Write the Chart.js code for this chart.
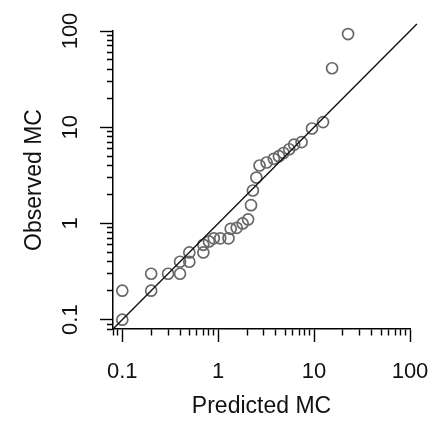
<!DOCTYPE html>
<html>
<head>
<meta charset="utf-8">
<script src="https://cdn.jsdelivr.net/npm/chart.js@4.4.1/dist/chart.umd.min.js"></script>
<style>
  body { margin: 0; background: #fff; }
  #wrap { width: 436px; height: 427px; }
</style>
</head>
<body>
<div id="wrap"><canvas id="qq" width="436" height="427"></canvas></div>
<script>
// predicted vs observed MC, both axes log
const predicted = [0.1, 0.1, 0.2, 0.2, 0.3, 0.4, 0.4, 0.5, 0.5, 0.7, 0.7, 0.8, 0.9, 1.05, 1.28, 1.35, 1.56, 1.8, 2.05, 2.2, 2.3, 2.5, 2.7, 3.2, 3.8, 4.3, 4.8, 5.5, 6.2, 7.4, 9.5, 12.4, 15.4, 22.6];
const observed  = [0.1, 0.2, 0.2, 0.3, 0.3, 0.3, 0.4, 0.4, 0.5, 0.5, 0.6, 0.65, 0.7, 0.7, 0.7, 0.88, 0.9, 1.0, 1.1, 1.55, 2.2, 3.0, 4.0, 4.3, 4.7, 5.0, 5.4, 5.9, 6.6, 7.0, 9.7, 11.3, 41, 93];

// 1:1 reference line (runs a little past 100 like abline)
const lineX = [0.08, 118];
const lineY = [0.08, 118];

// axis ticks, R style: long ticks with labels, short ones without
const tickValues = [0.08, 0.09, 0.1, 0.2, 0.3, 0.4, 0.5, 0.6, 0.7, 0.8, 0.9,
                    1, 2, 3, 4, 5, 6, 7, 8, 9,
                    10, 20, 30, 40, 50, 60, 70, 80, 90, 100];
const majorTicks = [0.1, 1, 10, 100];
const majorLabels = ['0.1', '1', '10', '100'];

const FONT = "'Liberation Sans', Arial, Helvetica, sans-serif";
const TICK_LEN = 13;

function tickLabel(value) {
  const i = majorTicks.indexOf(value);
  return i < 0 ? '' : majorLabels[i];
}
function isMajor(ctx) {
  return ctx.tick && majorTicks.indexOf(ctx.tick.value) >= 0;
}
function useTicks(scale) {
  scale.ticks = tickValues.map(function(v) { return {value: v}; });
}

const canvas = document.getElementById('qq');

new Chart(canvas, {
  type: 'scatter',
  data: {
    datasets: [
      {
        type: 'line',
        data: lineX.map(function(x, i) { return {x: x, y: lineY[i]}; }),
        borderColor: '#111',
        borderWidth: 1.4,
        pointRadius: 0,
        clip: false,
      },
      {
        data: predicted.map(function(x, i) { return {x: x, y: observed[i]}; }),
        pointRadius: 5.5,
        pointBorderWidth: 1.7,
        pointBorderColor: '#686868',
        pointBackgroundColor: 'rgba(0,0,0,0)',
        clip: false,
      }
    ]
  },
  options: {
    responsive: false,
    animation: false,
    layout: { padding: { top: 31, right: 26, bottom: 0, left: 0 } },
    plugins: { legend: { display: false }, tooltip: { enabled: false } },
    scales: {
      x: {
        type: 'logarithmic',
        position: 'bottom',
        min: 0.08,
        max: 100,
        afterBuildTicks: useTicks,
        afterFit: function(s) { s.height = 98; s.paddingLeft = 0; s.paddingRight = 0; },
        border: { display: true, color: '#000', width: 1.5 },
        grid: {
          drawOnChartArea: false,
          drawTicks: true,
          tickLength: TICK_LEN,
          tickColor: '#000',
          tickWidth: 1.4,
          // short minor ticks: dash starts at the axis line
          tickBorderDash: function(ctx) { return isMajor(ctx) ? [] : [6, 40]; },
        },
        ticks: {
          autoSkip: false, minRotation: 0, maxRotation: 0, padding: 17,
          color: '#111', font: { family: FONT, size: 22 },
          callback: tickLabel,
        },
        title: {
          display: true, text: 'Predicted MC', color: '#111',
          font: { family: FONT, size: 23 }, padding: { top: 0, bottom: 7 },
        },
      },
      y: {
        type: 'logarithmic',
        position: 'left',
        min: 0.08,
        max: 100,
        afterBuildTicks: useTicks,
        afterFit: function(s) { s.width = 113; s.paddingTop = 0; s.paddingBottom = 0; },
        border: { display: true, color: '#000', width: 1.5 },
        grid: {
          drawOnChartArea: false,
          drawTicks: true,
          tickLength: TICK_LEN,
          tickColor: '#000',
          tickWidth: 1.4,
          // left ticks are drawn from the outer end inwards
          tickBorderDash: function(ctx) { return isMajor(ctx) ? [] : [0, 7, 6, 40]; },
        },
        ticks: {
          autoSkip: false, minRotation: 90, maxRotation: 90, crossAlign: 'center', padding: 11,
          color: '#111', font: { family: FONT, size: 22 },
          callback: tickLabel,
        },
        title: {
          display: true, text: 'Observed MC', color: '#111',
          font: { family: FONT, size: 23 }, padding: { top: 21, bottom: 0 },
        },
      }
    }
  }
});
</script>
</body>
</html>
